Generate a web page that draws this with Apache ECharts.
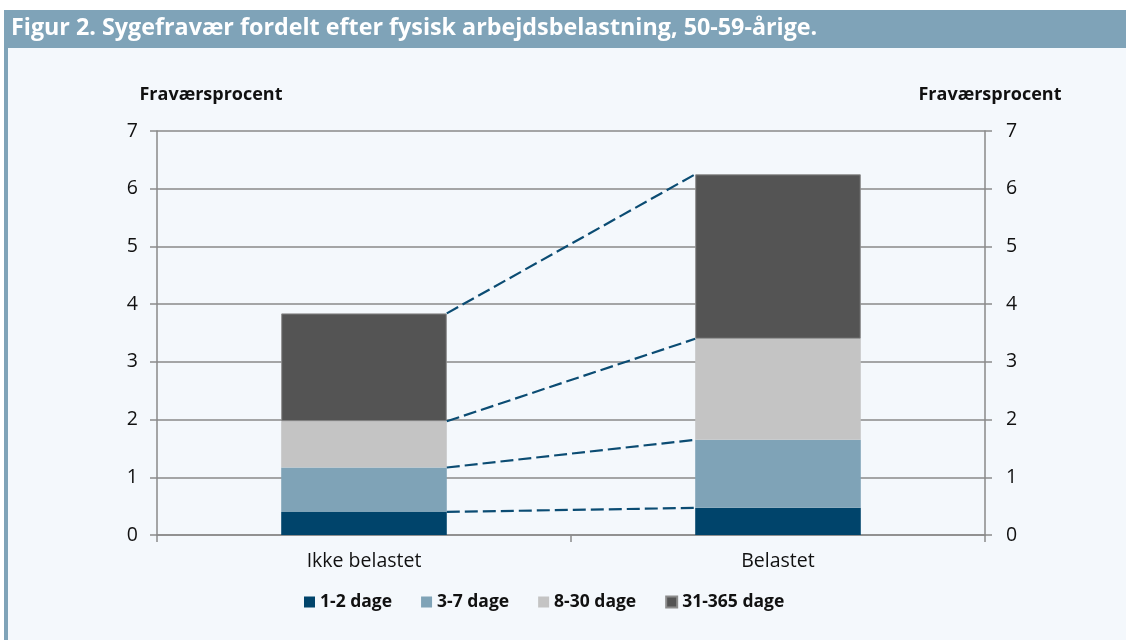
<!DOCTYPE html>
<html><head><meta charset="utf-8">
<script src="https://cdn.jsdelivr.net/npm/echarts@6/dist/echarts.min.js"></script>
<style>html,body{margin:0;padding:0;background:#fff}#c{width:1126px;height:640px}</style>
</head><body><div id="c"></div>
<script>
const categories = ['Ikke belastet', 'Belastet'];
const seriesNames = ['1-2 dage', '3-7 dage', '8-30 dage', '31-365 dage'];
const v12 = [0.40, 0.47];
const v37 = [0.77, 1.18];
const v830 = [0.80, 1.75];
const v31365 = [1.87, 2.85];
const yTicks = [0, 1, 2, 3, 4, 5, 6, 7];
const titleText = 'Figur 2. Sygefravær fordelt efter fysisk arbejdsbelastning, 50-59-årige.';
const axisName = 'Fraværsprocent';

const colors = ['#00446B', '#7FA3B7', '#C4C4C4', '#545454'];
const values = [v12, v37, v830, v31365];
const FONT = '"Open Sans", "Noto Sans", sans-serif';

const cum = [];
let acc = [0, 0];
values.forEach(arr => { acc = [acc[0] + arr[0], acc[1] + arr[1]]; cum.push([acc[0], acc[1]]); });

const chart = echarts.init(document.getElementById('c'));
const barSeries = values.map((arr, i) => ({
  name: seriesNames[i], type: 'bar', stack: 's', barWidth: '40%',
  data: arr,
  itemStyle: { color: colors[i], borderColor: i === 3 ? '#8c8c8c' : 'transparent', borderWidth: i === 3 ? 1 : 0 },
  emphasis: { disabled: true }, z: 3
}));

const yCommon = {
  type: 'value', min: yTicks[0], max: yTicks[yTicks.length - 1], interval: 1,
  axisLine: { show: true, lineStyle: { color: '#8a8a8a', width: 1.5 } },
  axisTick: { show: true, inside: false, length: 7, lineStyle: { color: '#8a8a8a', width: 1.5 } },
  axisLabel: { color: '#111', fontFamily: FONT, fontSize: 19.5, margin: 19 },
  name: axisName, nameLocation: 'end', nameGap: 27,
  nameTextStyle: { color: '#111', fontFamily: FONT, fontSize: 18, fontWeight: 'bold' }
};

chart.setOption({
  backgroundColor: '#F4F8FC',
  animation: false,
  graphic: [
    { type: 'rect', shape: { x: 0, y: 0, width: 1126, height: 10 }, style: { fill: '#ffffff' }, z: 0 },
    { type: 'rect', shape: { x: 0, y: 0, width: 4, height: 640 }, style: { fill: '#ffffff' }, z: 0 },
    { type: 'rect', shape: { x: 4, y: 10, width: 1122, height: 38 }, style: { fill: '#7FA3B8' }, z: 0 },
    { type: 'rect', shape: { x: 4, y: 48, width: 4, height: 592 }, style: { fill: '#7FA3B8' }, z: 0 },
    { type: 'text', x: 11, y: 28, style: { text: titleText, fill: '#fff', font: 'bold 23.3px ' + FONT, verticalAlign: 'middle' }, z: 1 }
  ],
  grid: { left: 157, right: 141, top: 131, bottom: 105 },
  legend: {
    data: seriesNames, left: 299, top: 588, icon: 'rect', itemWidth: 11, itemHeight: 11, itemGap: 29,
    textStyle: { fontFamily: FONT, fontSize: 17.5, fontWeight: 'bold', color: '#111' },
    selectedMode: false
  },
  xAxis: {
    type: 'category', data: categories,
    axisLine: { lineStyle: { color: '#8a8a8a', width: 1.5 } },
    axisTick: { show: true, length: 7, lineStyle: { color: '#8a8a8a', width: 1.5 } },
    axisLabel: { color: '#111', fontFamily: FONT, fontSize: 19.5, margin: 16 }
  },
  yAxis: [
    Object.assign({}, yCommon, {
      position: 'left',
      splitLine: { show: true, lineStyle: { color: '#8a8a8a', width: 1.5 } },
      nameTextStyle: Object.assign({}, yCommon.nameTextStyle, { padding: [0, 0, 0, 108] })
    }),
    Object.assign({}, yCommon, {
      position: 'right', splitLine: { show: false },
      axisLabel: Object.assign({}, yCommon.axisLabel, { margin: 21 }),
      nameTextStyle: Object.assign({}, yCommon.nameTextStyle, { padding: [0, 0, 0, 10] })
    })
  ],
  series: barSeries.concat([{
    type: 'custom', name: 'connectors', z: 4, silent: true,
    encode: { x: 0, y: 1 },
    data: cum.map(c => [0, c[0], c[1]]),
    renderItem: function (params, api) {
      const half = api.size([1, 0])[0] * 0.2;
      const p1 = api.coord([0, api.value(1)]);
      const p2 = api.coord([1, api.value(2)]);
      return {
        type: 'line',
        shape: { x1: p1[0] + half, y1: p1[1], x2: p2[0] - half, y2: p2[1] },
        style: { stroke: '#0B4C73', lineWidth: 2.2, lineDash: [13, 5], fill: null }
      };
    }
  }])
});
</script></body></html>
